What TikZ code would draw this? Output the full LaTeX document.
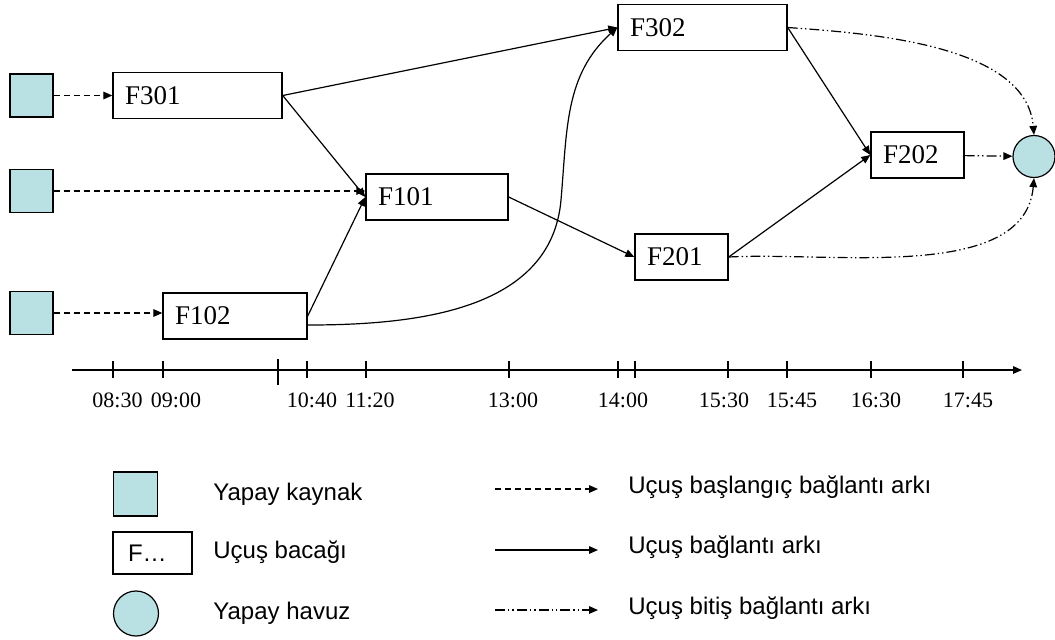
\documentclass[tikz,border=0pt]{standalone}
\usepackage{fontspec}
\setmainfont{Liberation Serif}
\setsansfont{Liberation Sans}
\usetikzlibrary{arrows.meta}

\definecolor{poolblue}{RGB}{185,224,227}

\tikzset{
  source/.style={draw,fill=poolblue,line width=.6pt,minimum size=21.5pt,inner sep=0pt},
  sink/.style={draw,fill=poolblue,circle,line width=.6pt,minimum size=21pt,inner sep=0pt},
  leg/.style={draw,line width=.7pt,minimum height=23pt,inner xsep=6pt,inner ysep=0pt,
              text width=#1,align=left,font=\fontsize{13.5}{16}\selectfont},
  tip/.style={-{Triangle[length=4.5pt,width=3.8pt]},line width=.6pt},
  startarc/.style={tip,dash pattern=on 3pt off 2pt},
  legarc/.style={tip},
  endarc/.style={tip,dash pattern=on 5pt off 1.5pt on .7pt off 1.5pt on .7pt off 1.5pt},
  hour/.style={font=\fontsize{11}{13}\selectfont,anchor=base,inner sep=0pt},
  keytext/.style={font=\sffamily\fontsize{12}{14}\selectfont,anchor=base west,inner sep=0pt}
}

\begin{document}
\begin{tikzpicture}[x=.5pt,y=-.5pt]
  \useasboundingbox (0,0) rectangle (1055,639);

% artificial sources
  \node[source] (s1) at (31.5,95.5) {};
  \node[source] (s2) at (31.5,191)  {};
  \node[source] (s3) at (31.5,313)  {};

% flight legs
  \node[leg=72.5pt] (F301) at (197.5,95.5) {F301};
  \node[leg=59pt]   (F101) at (437,197)    {F101};
  \node[leg=60pt]   (F102) at (235,316)    {F102};
  \node[leg=72.5pt] (F302) at (702.5,27.5) {F302};
  \node[leg=34.5pt] (F201) at (681.5,257)  {F201};
  \node[leg=34.5pt] (F202) at (917.5,155)  {F202};

% artificial sink
  \node[sink] (t) at (1034,156.5) {};

% start arcs
  \draw[startarc] (s1) -- (F301);
  \draw[startarc] (s2) -- (s2 -| F101.west);
  \draw[startarc] (s3) -- (s3 -| F102.west);

% connection arcs
  \coordinate (bend) at (561,200);
  \draw[legarc] (F301.east) -- (F302.west);
  \draw[legarc] (F301.east) -- (F101.west);
  \draw[legarc] (F102.east) -- (F101.west);
  \draw[legarc] ([yshift=-4.5pt]F102.east) to[out=0,in=-95] (bend) to[out=85,in=222] (F302.west);
  \draw[legarc] (F101.east) -- (F201.west);
  \draw[legarc] (F302.east) -- (F202.west);
  \draw[legarc] (F201.east) -- (F202.west);

% end arcs
  \draw[endarc] (F202) -- (t);
  \draw[endarc] (F302.east) to[out=-4,in=95,looseness=.85] (t.north);
  \draw[endarc] (F201.east) to[out=3,in=-95,looseness=.85] (t.south);

% time axis
  \coordinate (a0) at (72,370);
  \coordinate (a1) at (1022,370);
  \draw[tip] (a0) -- (a1);
  \foreach \t in {113,163,307,366,509,618,635,728,787,871,963}
    \draw[line width=.6pt] (\t,361) -- (\t,378);
  \draw[line width=.6pt] (278,359) -- (278,385);
  \foreach \x/\h [count=\i] in {117.5/08:30,176/09:00,312/10:40,370/11:20,513/13:00,
                               623/14:00,724/15:30,792/15:45,876/16:30,968/17:45}
    \node[hour] (h\i) at (\x,407) {\h};

% legend
  \node[source,minimum size=22pt] (ksrc) at (135.5,494) {};
  \node[leg=24.5pt,inner xsep=7.5pt,minimum height=21pt,
        font=\sffamily\fontsize{12}{14}\selectfont] (kleg) at (152.5,553) {F…};
  \node[sink,minimum size=22.5pt] (ksnk) at (136,613.5) {};
  \node[keytext] (ksrct) at (213,500) {Yapay kaynak};
  \node[keytext] (klegt) at (213,558) {Uçuş bacağı};
  \node[keytext] (ksnkt) at (213,619) {Yapay havuz};

  \coordinate (k1a) at (495,489); \coordinate (k1b) at (598,489);
  \coordinate (k2a) at (495,550); \coordinate (k2b) at (598,550);
  \coordinate (k3a) at (495,610); \coordinate (k3b) at (598,610);
  \draw[startarc] (k1a) -- (k1b);
  \draw[legarc]   (k2a) -- (k2b);
  \draw[endarc]   (k3a) -- (k3b);
  \node[keytext] (k1t) at (628,493) {Uçuş başlangıç bağlantı arkı};
  \node[keytext] (k2t) at (628,553) {Uçuş bağlantı arkı};
  \node[keytext] (k3t) at (628,614) {Uçuş bitiş bağlantı arkı};
\end{tikzpicture}
\end{document}
